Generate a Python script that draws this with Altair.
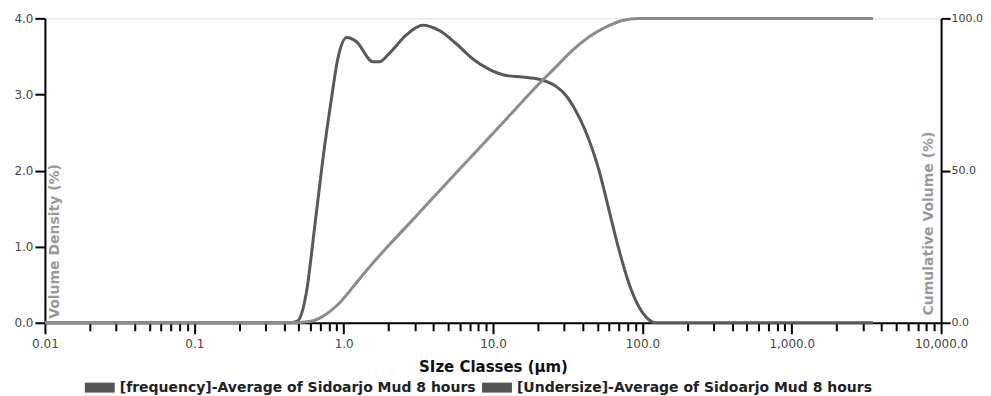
import altair as alt
import pandas as pd

# Frequency (volume density %) curve
freq_size = [0.01, 0.44, 0.49, 0.56, 0.64, 0.725, 0.825, 0.914, 1.05, 1.21, 1.57, 1.74,
             2.02, 2.62, 3.38, 4.37, 5.65, 7.3, 9.44, 12.2, 15.8, 20.4, 26.3, 30.7,
             35.5, 41.0, 51.3, 59.8, 69.7, 81.2, 94.8, 110.6, 122.7, 3500]
freq_val = [0, 0, 0.02, 0.37, 1.26, 2.14, 2.92, 3.47, 3.75, 3.70, 3.43, 3.43,
            3.54, 3.78, 3.91, 3.84, 3.67, 3.47, 3.33, 3.25, 3.23, 3.20, 3.11, 2.99,
            2.80, 2.55, 2.0, 1.48, 0.96, 0.52, 0.21, 0.04, 0, 0]

# Undersize (cumulative volume %) curve
cum_size = [0.01, 0.44, 0.59, 0.725, 0.937, 1.21, 1.57, 2.02, 2.62, 3.38, 4.37, 5.65,
            7.3, 9.44, 12.2, 15.8, 20.4, 26.3, 34.0, 43.6, 56.8, 73.4, 95, 3500]
cum_val = [0, 0, 0.4, 2.1, 6.5, 13, 19.6, 25.6, 31.5, 37.4, 43.3, 49.2,
           55.0, 60.9, 66.8, 72.8, 78.6, 84.0, 89.5, 93.8, 97.1, 99.3, 100, 100]

series_names = ["[frequency]-Average of Sidoarjo Mud 8 hours",
                "[Undersize]-Average of Sidoarjo Mud 8 hours"]
line_colors = ["#595959", "#8c8c8c"]
swatch_colors = ["#555555", "#555555"]

x_ticks = [m * 10 ** k for k in range(-2, 4) for m in range(1, 10)] + [10000]
y_left_ticks = [0, 1, 2, 3, 4]
y_right_ticks = [0, 50, 100]

df_f = pd.DataFrame({"size": freq_size, "value": freq_val, "series": series_names[0]})
df_c = pd.DataFrame({"size": cum_size, "value": cum_val, "series": series_names[1]})
df_leg = pd.DataFrame({"entry": series_names})

FONT = "DejaVu Sans"
major = "abs(log(datum.value)/LN10 - round(log(datum.value)/LN10)) < 0.000001"

x_enc = alt.X(
    "size:Q",
    scale=alt.Scale(type="log", domain=[0.01, 10000], nice=False),
    axis=alt.Axis(
        title="SIze Classes (µm)",
        values=x_ticks,
        labelExpr=f"({major}) ? (datum.value < 0.05 ? '0.01' : (datum.value < 0.5 ? '0.1' : format(datum.value, ',.1f'))) : ''",
        labelOverlap=False,
        labelFlush=False,
        tickSize={"condition": {"test": major, "value": 11}, "value": 8},
        tickWidth=2,
        tickColor="#000",
        domainColor="#000",
        domainWidth=2,
        labelFont=FONT,
        labelFontSize=12,
        labelColor="#444",
        labelPadding=5,
        titleFont=FONT,
        titleFontSize=15,
        titleFontWeight="bold",
        titleColor="#111",
        titlePadding=10,
        grid=False,
    ),
)

color_enc = alt.Color(
    "series:N",
    scale=alt.Scale(domain=series_names, range=line_colors),
    legend=None,
)

freq = alt.Chart(df_f).mark_line(strokeWidth=3, interpolate="monotone").encode(
    x=x_enc,
    y=alt.Y(
        "value:Q",
        scale=alt.Scale(domain=[0, 4], nice=False),
        axis=alt.Axis(
            title="Volume Density (%)",
            values=y_left_ticks,
            format=".1f",
            tickSize=10,
            tickWidth=2,
            tickColor="#000",
            domainColor="#000",
            domainWidth=2,
            labelFont=FONT,
            labelFontSize=12,
            labelColor="#444",
            labelPadding=2,
            titleFont=FONT,
            titleFontSize=14,
            titleFontWeight="bold",
            titleColor="#999",
            titleAngle=270,
            titleX=3,
            titleY=223,
            titleAlign="center",
            titleBaseline="top",
            grid=False,
        ),
    ),
    color=color_enc,
)

cum = alt.Chart(df_c).mark_line(strokeWidth=3, interpolate="monotone").encode(
    x=x_enc,
    y=alt.Y(
        "value:Q",
        scale=alt.Scale(domain=[0, 100], nice=False),
        axis=alt.Axis(
            orient="right",
            title="Cumulative Volume (%)",
            values=y_right_ticks,
            format=".1f",
            tickSize=9,
            tickWidth=2,
            tickColor="#000",
            domainColor="#000",
            domainWidth=2,
            labelFont=FONT,
            labelFontSize=11,
            labelColor="#444",
            labelPadding=1,
            titleFont=FONT,
            titleFontSize=14,
            titleFontWeight="bold",
            titleColor="#999",
            titleAngle=270,
            titleX=-20,
            titleY=205,
            titleAlign="center",
            titleBaseline="top",
            grid=False,
        ),
    ),
    color=color_enc,
)

# legend carrier: off-canvas squares whose colour scale drives the legend swatches
legend_layer = alt.Chart(df_leg).mark_square(opacity=1, size=900).encode(
    x=alt.value(-2000),
    y=alt.value(-2000),
    color=alt.Color(
        "entry:N",
        scale=alt.Scale(domain=series_names, range=swatch_colors),
        legend=alt.Legend(
            title=None,
            orient="none",
            direction="horizontal",
            legendX=40,
            legendY=355,
            symbolType="M-1,-0.333H1V0.333H-1Z",
            symbolSize=900,
            symbolStrokeWidth=0,
            labelFont=FONT,
            labelFontSize=14,
            labelFontWeight="bold",
            labelColor="#222",
            labelLimit=500,
            labelOffset=5,
            columnPadding=6,
        ),
    ),
)

chart = (
    alt.layer(freq, cum, legend_layer)
    .resolve_scale(y="independent", color="independent")
    .resolve_legend(color="independent")
    .properties(
        width=898,
        height=305,
        autosize=alt.AutoSizeParams(type="none"),
        padding={"left": 37, "top": 10, "right": 42, "bottom": 75},
    )
    .configure_view(stroke=None)
    .configure(background="white")
)

chart.save("out.html", embed_options={"renderer": "svg", "actions": False})
